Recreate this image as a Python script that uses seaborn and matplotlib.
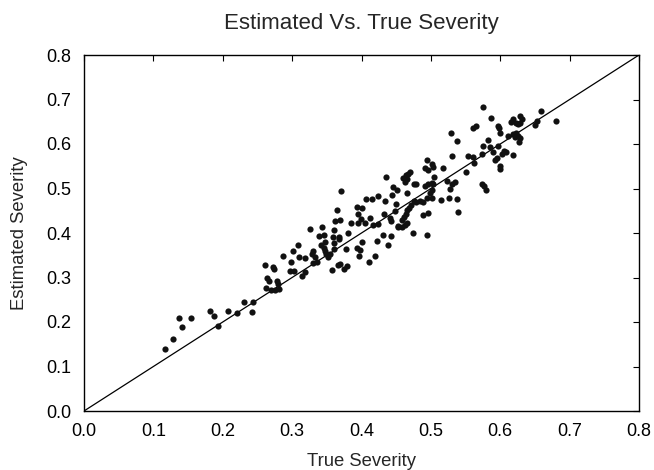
import matplotlib
matplotlib.use("Agg")
import matplotlib.pyplot as plt
import seaborn as sns
import pandas as pd

true_severity = [
    0.117, 0.129, 0.141, 0.137, 0.154, 0.181, 0.188, 0.193, 0.207, 0.221, 0.230, 0.243, 0.242,
    0.261, 0.272, 0.274, 0.264, 0.267, 0.262, 0.270, 0.276, 0.281, 0.278, 0.279, 0.287, 0.301,
    0.298, 0.297, 0.302, 0.310,
    0.436, 0.446, 0.451, 0.370, 0.406, 0.415, 0.424, 0.434, 0.444, 0.450, 0.364, 0.393, 0.400,
    0.395, 0.362, 0.369, 0.399, 0.412, 0.433, 0.448, 0.385, 0.395, 0.405, 0.416, 0.424, 0.442,
    0.452, 0.326, 0.343, 0.360, 0.339, 0.346, 0.359, 0.367, 0.380, 0.347, 0.342, 0.346, 0.347,
    0.349, 0.361, 0.368, 0.360, 0.355, 0.351, 0.378, 0.393, 0.398, 0.400, 0.396, 0.423, 0.431,
    0.438, 0.443, 0.419, 0.411, 0.358, 0.366, 0.369, 0.375, 0.379, 0.309, 0.318, 0.330, 0.328,
    0.333, 0.336, 0.330, 0.314, 0.318,
    0.529, 0.561, 0.565, 0.538, 0.575, 0.583, 0.585, 0.597, 0.573, 0.561, 0.554, 0.605, 0.608,
    0.603, 0.618, 0.595, 0.592, 0.562, 0.551, 0.599, 0.600, 0.531, 0.494, 0.501, 0.503, 0.491,
    0.496, 0.517, 0.505, 0.460, 0.464, 0.467, 0.470, 0.466, 0.463, 0.475, 0.478, 0.523, 0.535,
    0.530, 0.496, 0.501, 0.503, 0.527, 0.492, 0.499, 0.501, 0.465, 0.475, 0.479, 0.484, 0.489,
    0.472, 0.469, 0.466, 0.464, 0.461, 0.459, 0.494, 0.501, 0.515, 0.526, 0.538, 0.539, 0.489,
    0.496, 0.495, 0.474, 0.453, 0.458, 0.463, 0.466, 0.441,
    0.575, 0.587, 0.597, 0.598, 0.600, 0.616, 0.619, 0.622, 0.626, 0.629, 0.632, 0.628, 0.611,
    0.619, 0.623, 0.621, 0.626, 0.629, 0.627, 0.650, 0.653, 0.659, 0.680, 0.589, 0.573, 0.576,
    0.579,
]
estimated_severity = [
    0.140, 0.162, 0.188, 0.210, 0.209, 0.224, 0.214, 0.190, 0.224, 0.221, 0.245, 0.245, 0.222,
    0.328, 0.324, 0.318, 0.299, 0.292, 0.276, 0.273, 0.271, 0.274, 0.293, 0.286, 0.349, 0.360,
    0.334, 0.314, 0.314, 0.345,
    0.525, 0.503, 0.496, 0.495, 0.476, 0.477, 0.483, 0.472, 0.485, 0.465, 0.451, 0.458, 0.456,
    0.443, 0.428, 0.429, 0.431, 0.433, 0.443, 0.450, 0.423, 0.422, 0.423, 0.419, 0.420, 0.427,
    0.414, 0.408, 0.414, 0.406, 0.393, 0.396, 0.391, 0.392, 0.399, 0.380, 0.372, 0.367, 0.360,
    0.353, 0.378, 0.386, 0.363, 0.353, 0.345, 0.363, 0.366, 0.362, 0.379, 0.349, 0.383, 0.396,
    0.372, 0.393, 0.348, 0.335, 0.317, 0.327, 0.331, 0.318, 0.325, 0.374, 0.344, 0.359, 0.352,
    0.347, 0.334, 0.333, 0.304, 0.312,
    0.624, 0.635, 0.640, 0.606, 0.595, 0.608, 0.594, 0.596, 0.577, 0.571, 0.574, 0.584, 0.582,
    0.577, 0.575, 0.569, 0.564, 0.558, 0.538, 0.550, 0.543, 0.572, 0.563, 0.556, 0.548, 0.547,
    0.542, 0.545, 0.525, 0.524, 0.531, 0.533, 0.536, 0.521, 0.514, 0.510, 0.510, 0.516, 0.515,
    0.510, 0.509, 0.512, 0.509, 0.499, 0.506, 0.491, 0.497, 0.491, 0.471, 0.469, 0.472, 0.470,
    0.464, 0.456, 0.451, 0.443, 0.436, 0.429, 0.479, 0.478, 0.474, 0.478, 0.476, 0.447, 0.441,
    0.446, 0.396, 0.401, 0.416, 0.414, 0.419, 0.422, 0.434,
    0.683, 0.659, 0.641, 0.635, 0.624, 0.649, 0.656, 0.648, 0.644, 0.647, 0.657, 0.664, 0.618,
    0.623, 0.625, 0.615, 0.619, 0.614, 0.604, 0.642, 0.651, 0.675, 0.652, 0.582, 0.510, 0.505,
    0.497,
]
diag_x = [0.0, 0.8]
diag_y = [0.0, 0.8]
ticks = [0.0, 0.1, 0.2, 0.3, 0.4, 0.5, 0.6, 0.7, 0.8]
tick_labels = ["0.0", "0.1", "0.2", "0.3", "0.4", "0.5", "0.6", "0.7", "0.8"]

sns.set_style("white")
plt.rcParams["font.family"] = ["Liberation Sans", "DejaVu Sans"]

df = pd.DataFrame({"True Severity": true_severity, "Estimated Severity": estimated_severity})
line_df = pd.DataFrame({"x": diag_x, "y": diag_y})

fig = plt.figure(figsize=(6.54, 4.70), dpi=100)
ax = fig.add_axes([84 / 654, 59 / 470, 555 / 654, 356 / 470])

sns.lineplot(data=line_df, x="x", y="y", ax=ax, color="black", linewidth=0.9)
sns.scatterplot(data=df, x="True Severity", y="Estimated Severity", ax=ax,
                color="#111111", s=20, linewidth=0, zorder=3)

ax.set_xlim(0, 0.8)
ax.set_ylim(0, 0.8)
ax.set_xticks(ticks)
ax.set_xticklabels(tick_labels)
ax.set_yticks(ticks)
ax.set_yticklabels(tick_labels)
ax.tick_params(direction="in", length=4, width=0.8, top=True, right=True,
               labelsize=13, colors="black")
ax.tick_params(axis="x", pad=9)
ax.tick_params(axis="y", pad=9)
for sp in ax.spines.values():
    sp.set_color("black")
    sp.set_linewidth(1.0)

ax.set_xlabel("True Severity", fontsize=13.3, labelpad=9)
ax.set_ylabel("Estimated Severity", fontsize=13.3, labelpad=13)
ax.set_title("Estimated Vs. True Severity", fontsize=16, pad=19)

fig.savefig("out.png", dpi=100, facecolor="white")
